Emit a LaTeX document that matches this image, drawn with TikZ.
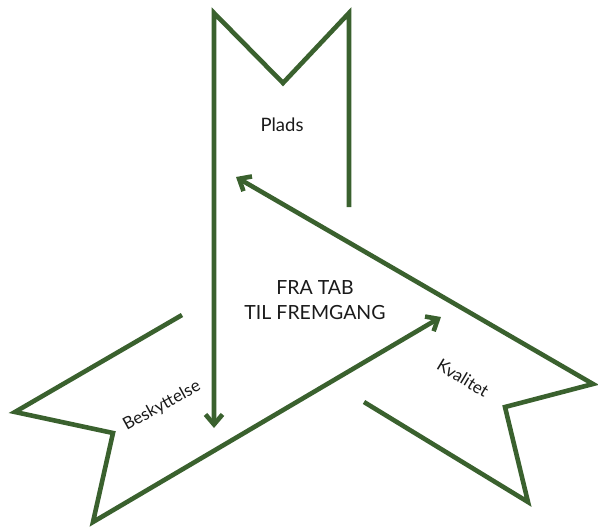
\documentclass[tikz,border=0pt]{standalone}
\usepackage{fontspec}
\setmainfont{Lato}
\usetikzlibrary{arrows.meta}
\definecolor{leaf}{RGB}{58,97,46}
\definecolor{ink}{RGB}{26,26,26}
\begin{document}
\begin{tikzpicture}[x=1pt,y=-1pt,
  band/.style={draw=leaf,line width=4.6pt,line join=miter,miter limit=20},
  pointer/.style={-{Straight Barb[length=10pt,width=17pt]}},
  label/.style={text=ink,inner sep=0pt,font=\fontsize{17}{20}\selectfont}]
\useasboundingbox (0,0) rectangle (598,528);

% Plads ribbon
\coordinate (p1) at (349,207);
\coordinate (p2) at (349,13);
\coordinate (p3) at (283,83);
\coordinate (p4) at (214,13);
\coordinate (p5) at (214,428);
% Kvalitet ribbon
\coordinate (k0) at (364,402);
\coordinate (k1) at (528,502);
\coordinate (k2) at (505,407);
\coordinate (k3) at (593,384);
\coordinate (k4) at (236,177);
% Beskyttelse ribbon
\coordinate (b0) at (182,315);
\coordinate (b1) at (15,412);
\coordinate (b2) at (113,433);
\coordinate (b3) at (93,522);
\coordinate (b4) at (441,317);

\draw[band,pointer] (p1) -- (p2) -- (p3) -- (p4) -- (p5);
\draw[band,pointer] (k0) -- (k1) -- (k2) -- (k3) -- (k4);
\draw[band,pointer] (b0) -- (b1) -- (b2) -- (b3) -- (b4);

\node[label,font=\fontsize{18.5}{20}\selectfont] (plads) at (282,125) {Plads};
\node[label,align=center,font=\fontsize{19.5}{25}\selectfont] (title) at (315,300) {FRA TAB\\TIL FREMGANG};
\node[label,rotate=29] (besk) at (162,406) {Beskyttelse};
\node[label,rotate=-31] (kval) at (463,378) {Kvalitet};
\end{tikzpicture}
\end{document}
